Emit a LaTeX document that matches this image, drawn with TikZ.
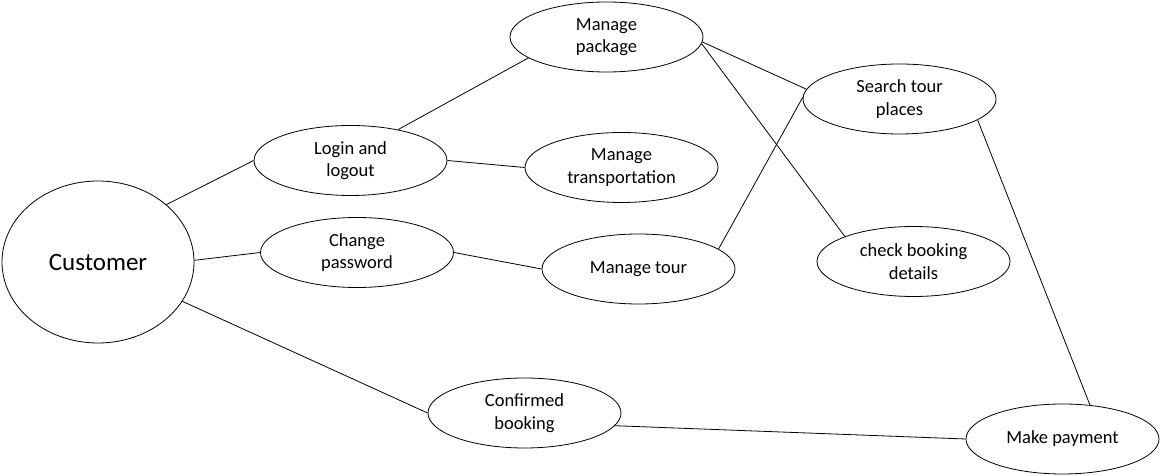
\documentclass[tikz,border=0pt]{standalone}
\usepackage{fontspec}
\setmainfont{Carlito}
\usepackage{tikz}
\usetikzlibrary{shapes}

\begin{document}
\begin{tikzpicture}[x=1pt,y=1pt]

	\tikzstyle{usecase}=[ellipse,draw=black,line width=0.8pt,inner sep=0pt,minimum width=193pt,minimum height=70pt,align=center,font=\fontsize{18.5}{22.5}\selectfont]
	\tikzstyle{actor}=[ellipse,draw=black,line width=0.8pt,inner sep=0pt,minimum width=192pt,minimum height=162pt,font=\fontsize{25}{30}\selectfont]
	\tikzstyle{link}=[draw=black,line width=0.8pt]

	\useasboundingbox (0,0) rectangle (1160,476);

	\node [actor] (customer) at (98,214) {Customer};

	\node [usecase] (login) at (350.5,315.5) {Login and\\logout};
	\node [usecase] (change) at (357,223.5) {Change\\password};
	\node [usecase] (confirmed) at (524.5,63) {Confirmed\\booking};
	\node [usecase] (package) at (606.5,439) {Manage\\package};
	\node [usecase] (transport) at (621.5,308.5) {Manage\\transportation};
	\node [usecase] (tour) at (638.5,207) {Manage tour};
	\node [usecase] (search) at (899.5,377) {Search tour\\places};
	\node [usecase] (check) at (913.5,214.5) {check booking\\details};
	\node [usecase] (payment) at (1062.5,37) {Make payment};

	\draw [link] (customer.40) -- (login.180);
	\draw [link] (customer.1) -- (change.180);
	\draw [link] (customer.-25) -- (confirmed.180);
	\draw [link] (login.33) -- (package.195);
	\draw [link] (login.0) -- (transport.180);
	\draw [link] (change.0) -- (tour.180);
	\draw [link] (package.-3) -- (search.174);
	\draw [link] (package.-4) -- (check.160);
	\draw [link] (tour.14) -- (search.179);
	\draw [link] (search.-15) -- (payment.51);
	\draw [link] (confirmed.-8) -- (payment.180);

\end{tikzpicture}
\end{document}
